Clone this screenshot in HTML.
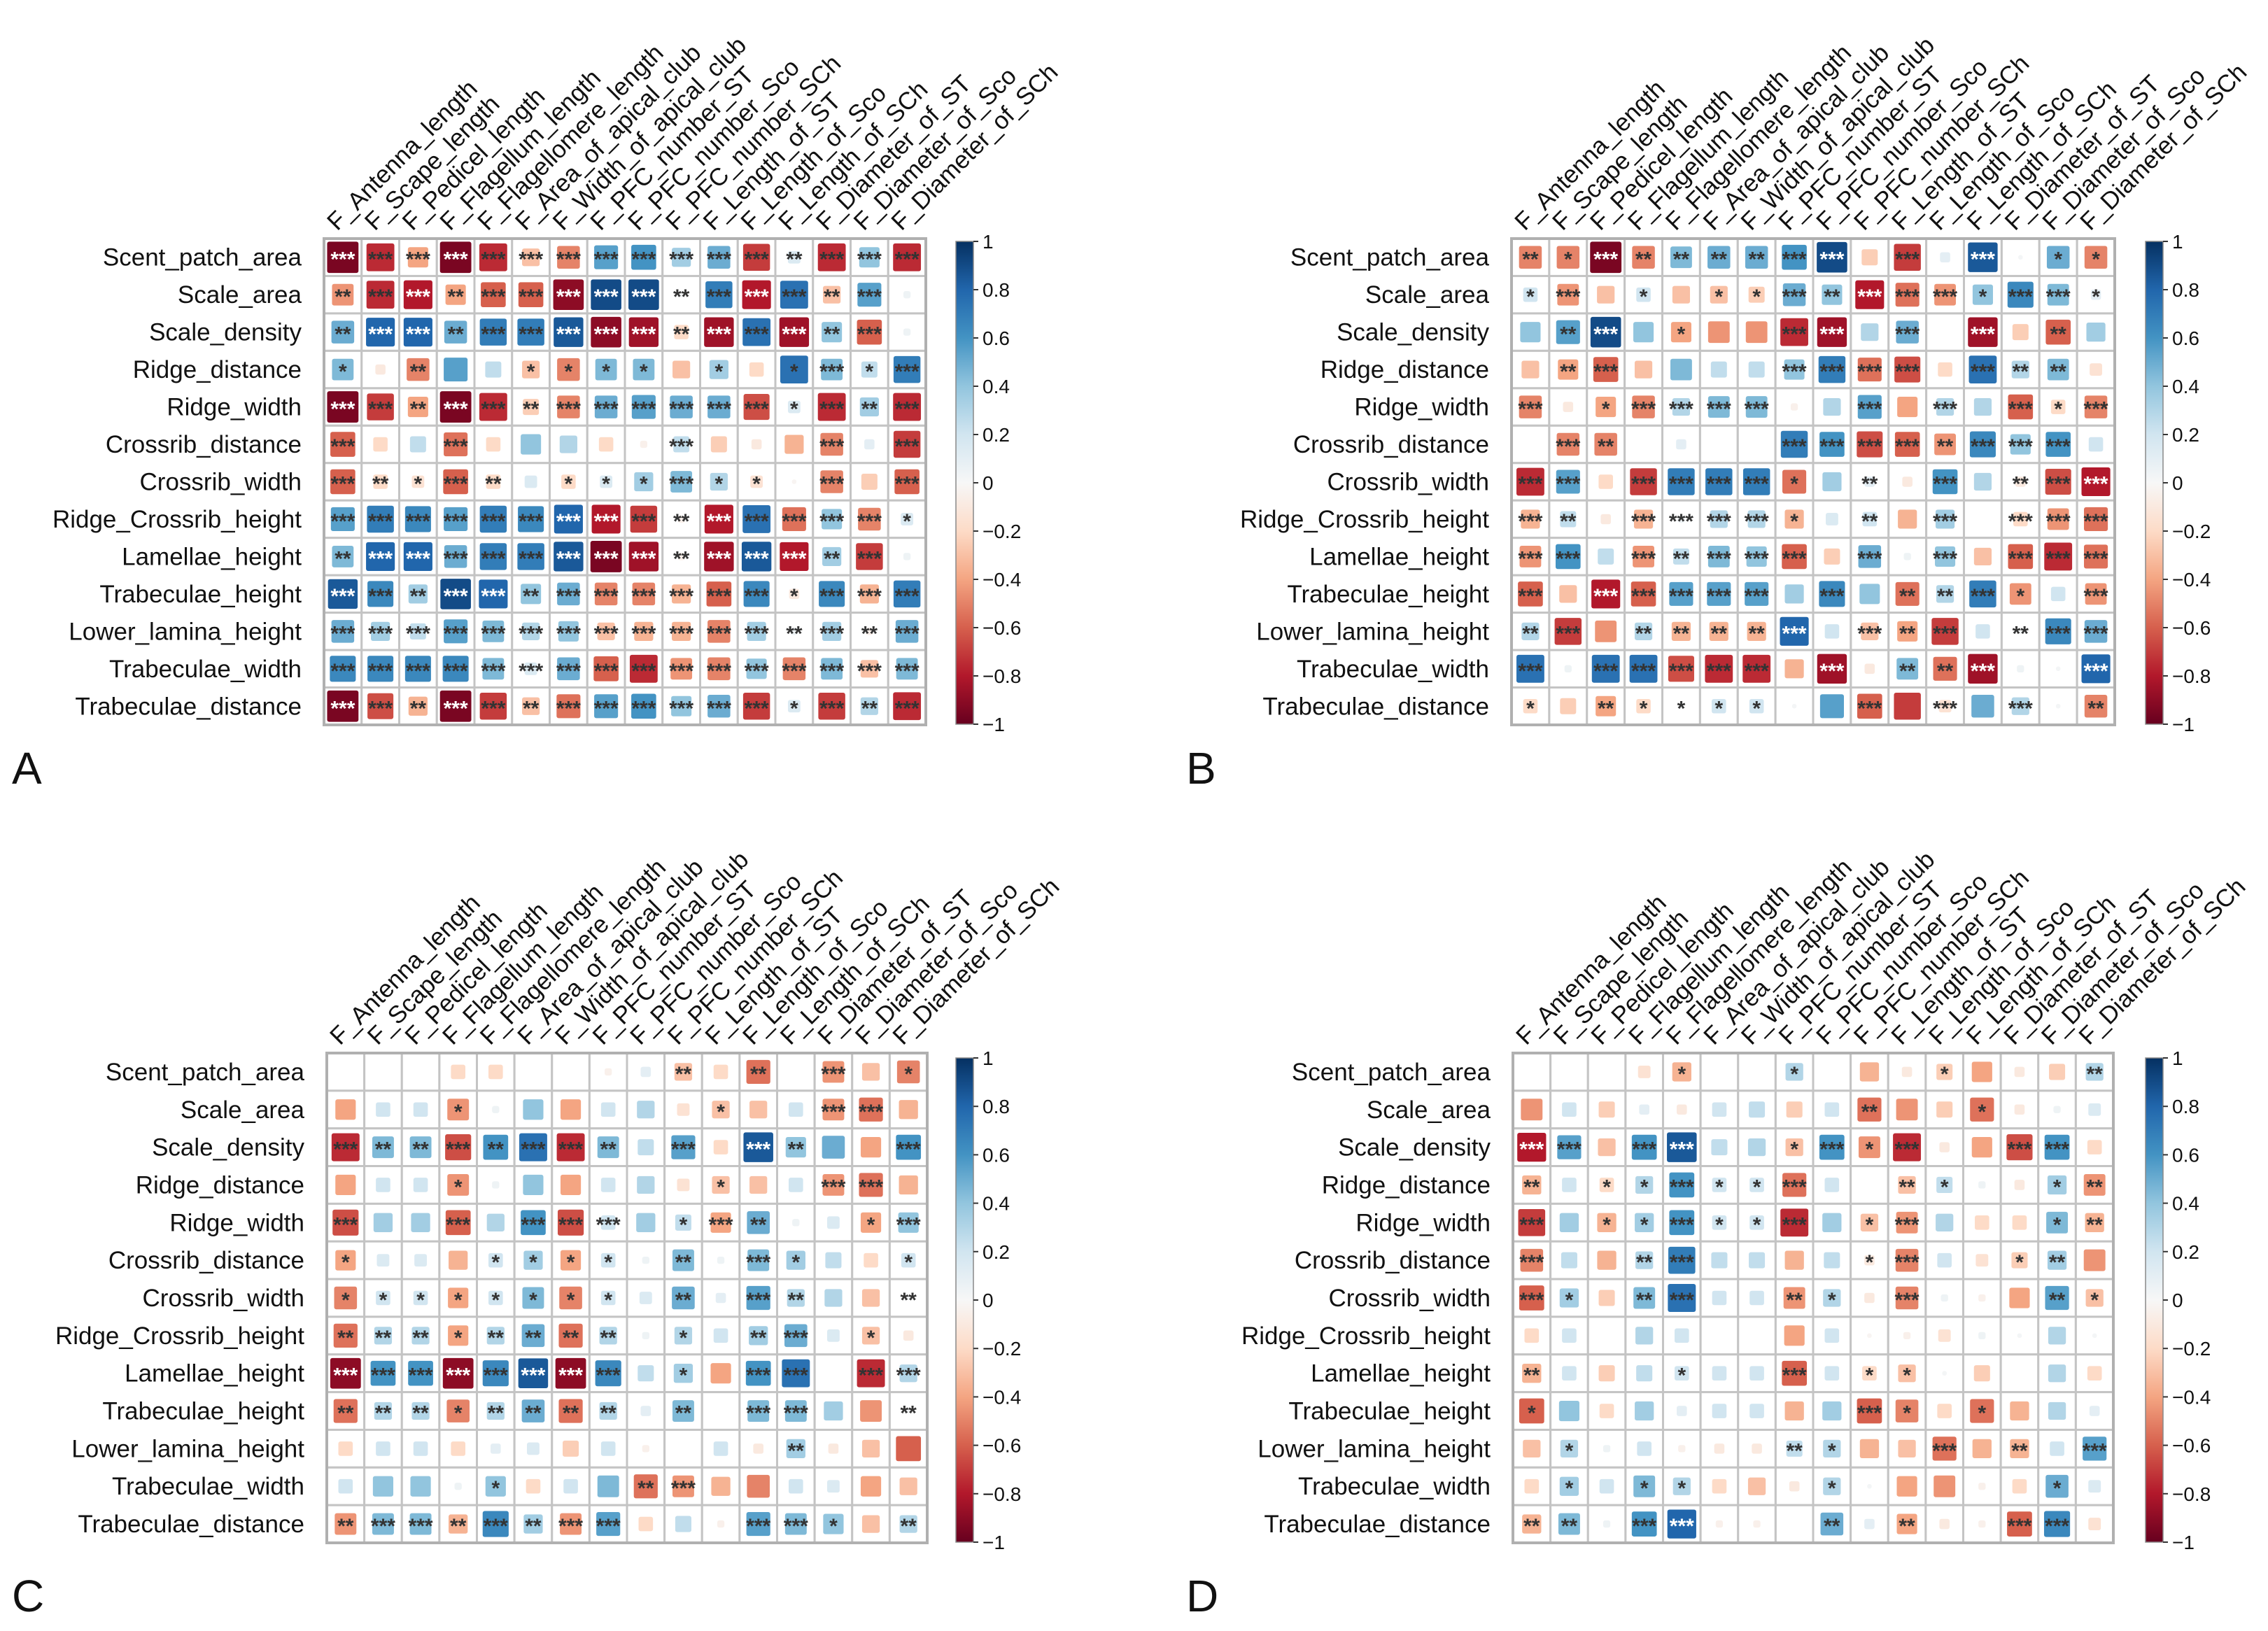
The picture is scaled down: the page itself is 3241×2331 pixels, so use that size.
<!DOCTYPE html>
<html><head><meta charset="utf-8"><style>
html,body{margin:0;padding:0;background:#fff;}
svg{display:block;font-family:"Liberation Sans",Arial,sans-serif;}
</style></head><body>
<svg id="chart" width="3241" height="2331" viewBox="0 0 3241 2331" xmlns="http://www.w3.org/2000/svg">
<rect width="3241" height="2331" fill="#fff"/>
</svg>
<script>
const rowLabels = ["Scent_patch_area","Scale_area","Scale_density","Ridge_distance","Ridge_width","Crossrib_distance","Crossrib_width","Ridge_Crossrib_height","Lamellae_height","Trabeculae_height","Lower_lamina_height","Trabeculae_width","Trabeculae_distance"];
const colLabels = ["F_Antenna_length","F_Scape_length","F_Pedicel_length","F_Flagellum_length","F_Flagellomere_length","F_Area_of_apical_club","F_Width_of_apical_club","F_PFC_number_ST","F_PFC_number_Sco","F_PFC_number_SCh","F_Length_of_ST","F_Length_of_Sco","F_Length_of_SCh","F_Diameter_of_ST","F_Diameter_of_Sco","F_Diameter_of_SCh"];
const tickValues = [1,0.8,0.6,0.4,0.2,0,-0.2,-0.4,-0.6,-0.8,-1];
const panelLetters = ["A","B","C","D"];

const valuesA = [
[-0.95,-0.75,-0.4,-0.95,-0.75,-0.3,-0.5,0.55,0.6,0.35,0.5,-0.7,0.15,-0.75,0.4,-0.75],
[-0.45,-0.75,-0.8,-0.4,-0.6,-0.6,-0.9,0.9,0.9,0.02,0.7,-0.8,0.75,-0.3,0.55,0.05],
[0.5,0.8,0.8,0.5,0.7,0.7,0.85,-0.9,-0.85,-0.2,-0.85,0.75,-0.85,0.4,-0.6,0.05],
[0.45,-0.1,-0.5,0.55,0.25,-0.3,-0.5,0.45,0.45,-0.3,0.35,-0.2,0.75,0.45,0.25,0.7],
[-0.95,-0.7,-0.4,-0.95,-0.75,-0.25,-0.5,0.5,0.55,0.5,0.5,-0.65,0.15,-0.75,0.35,-0.75],
[-0.6,-0.2,0.25,-0.55,-0.2,0.4,0.3,-0.2,-0.05,0.25,-0.25,-0.1,-0.35,-0.5,0.1,-0.7],
[-0.6,-0.2,-0.15,-0.6,-0.2,0.15,-0.2,0.15,0.35,0.45,0.3,-0.15,-0.02,-0.5,-0.25,-0.6],
[0.55,0.7,0.65,0.55,0.7,0.65,0.8,-0.8,-0.7,-0.05,-0.8,0.75,-0.55,0.4,-0.5,0.15],
[0.45,0.8,0.8,0.5,0.7,0.7,0.85,-0.95,-0.85,-0.05,-0.85,0.85,-0.8,0.35,-0.7,0.05],
[0.85,0.65,0.35,0.9,0.8,0.4,0.5,-0.5,-0.5,-0.35,-0.6,0.65,-0.1,0.65,-0.35,0.7],
[0.5,0.35,0.25,0.55,0.45,0.3,0.4,-0.3,-0.35,-0.35,-0.5,0.35,0.05,0.35,-0.05,0.5],
[0.65,0.65,0.65,0.65,0.45,0.15,0.5,-0.6,-0.75,-0.45,-0.5,0.4,-0.5,0.45,-0.3,0.45],
[-0.95,-0.65,-0.35,-0.95,-0.7,-0.3,-0.55,0.55,0.6,0.4,0.5,-0.7,0.15,-0.7,0.3,-0.75]];
const sigA = ["3333333333332333","2332333332333230","2332333332333230","1020011110101313","3323323333331323","3003000003000303","3213201113110303","3333333332333331","2333333332333230","3323323333331333","3333333333332323","3333333333333333","3323323333331323"];

const valuesB = [
[-0.5,-0.5,-0.95,-0.5,0.45,0.5,0.5,0.6,0.9,-0.25,-0.7,0.1,0.85,0.02,0.5,-0.5],
[0.2,-0.45,-0.3,0.2,-0.3,-0.3,-0.25,0.5,0.4,-0.8,-0.55,-0.45,0.4,0.65,0.45,0.1],
[0.4,0.55,0.9,0.4,-0.4,-0.45,-0.45,-0.75,-0.85,0.3,0.5,0,-0.85,-0.25,-0.6,0.35],
[-0.3,-0.4,-0.6,-0.3,0.45,0.25,0.25,0.4,0.7,-0.55,-0.65,-0.2,0.75,0.3,0.45,-0.15],
[-0.5,-0.1,-0.4,-0.5,0.3,0.45,0.45,-0.05,0.3,0.55,-0.4,0.3,0.3,-0.6,-0.2,-0.5],
[0,-0.5,-0.5,0,0.1,0,0,0.7,0.6,-0.65,-0.6,-0.45,0.65,0.4,0.6,0.2],
[-0.75,0.55,-0.2,-0.7,0.7,0.7,0.7,-0.55,0.35,0.1,-0.1,0.6,0.3,-0.1,-0.65,-0.8],
[-0.35,0.25,-0.1,-0.35,0.05,0.3,0.3,-0.35,0.15,0.2,-0.35,0.35,0,-0.2,-0.45,-0.55],
[-0.45,0.6,0.25,-0.45,0.25,0.45,0.4,-0.6,-0.25,0.5,0.05,0.4,-0.3,-0.6,-0.75,-0.55],
[-0.6,-0.3,-0.8,-0.6,0.55,0.55,0.55,0.35,0.65,0.4,-0.55,0.3,0.7,-0.45,0.2,-0.45],
[0.3,-0.7,-0.45,0.3,-0.35,-0.35,-0.35,0.8,0.2,-0.3,-0.4,-0.7,0.2,0.02,0.65,0.5],
[0.75,0.05,0.75,0.75,-0.65,-0.75,-0.75,-0.35,-0.85,-0.1,0.45,-0.55,-0.85,0.05,0.02,0.8],
[-0.2,-0.25,-0.4,-0.2,0.02,0.2,0.2,0.02,0.55,-0.6,-0.7,-0.15,0.5,0.3,0.02,-0.5]];
const sigB = ["2132222330303011","1301011323331331","0230100330303020","0230000333303220","3013333003030313","0320000333323330","3303333102030233","3203333102030333","3303233303030333","3033333030223103","2302222303230233","3033333030223003","1021111003030302"];

const valuesC = [
[0,0,0,-0.2,-0.2,0,0,-0.05,0.1,-0.3,-0.2,-0.55,0,-0.45,-0.3,-0.5],
[-0.4,0.2,0.2,-0.45,0.05,0.4,-0.4,0.2,0.3,-0.15,-0.3,-0.3,0.2,-0.45,-0.55,-0.35],
[-0.75,0.45,0.45,-0.65,0.6,0.75,-0.75,0.45,0.25,0.55,-0.2,0.85,0.4,0.5,-0.4,0.6],
[-0.4,0.2,0.2,-0.45,0.05,0.4,-0.4,0.2,0.3,-0.15,-0.3,-0.3,0.2,-0.45,-0.55,-0.35],
[-0.65,0.35,0.35,-0.6,0.3,0.6,-0.65,0.2,0.35,0.25,-0.4,0.5,0.05,0.15,-0.4,0.4],
[-0.4,0.15,0.15,-0.35,0.2,0.35,-0.4,0.2,0.05,0.45,0.05,0.45,0.35,0.25,-0.2,0.2],
[-0.5,0.2,0.2,-0.4,0.2,0.45,-0.5,0.2,0.15,0.5,0.1,0.55,0.3,0.3,-0.3,0.02],
[-0.55,0.3,0.3,-0.4,0.3,0.5,-0.55,0.3,0.05,0.3,0.2,0.35,0.5,0.15,-0.3,-0.1],
[-0.9,0.6,0.6,-0.9,0.65,0.85,-0.9,0.65,0.25,0.35,-0.4,0.6,0.75,0,-0.75,0.3],
[-0.55,0.3,0.3,-0.5,0.3,0.5,-0.55,0.3,0.1,0.45,0,0.45,0.45,0.35,-0.45,0.02],
[-0.2,0.2,0.2,-0.2,0.1,0.15,-0.25,0.2,-0.05,0,0.2,-0.1,0.35,-0.1,-0.3,-0.6],
[0.2,0.4,0.4,0.05,0.4,-0.2,0.2,0.45,-0.55,-0.45,-0.35,-0.5,0.2,0.15,-0.4,-0.3],
[-0.45,0.45,0.45,-0.35,0.65,0.35,-0.45,0.55,-0.2,0.25,-0.05,0.55,0.45,0.4,-0.3,0.3]];
const sigC = ["0000000002020301","0001000000100330","3223233203032003","0001000000100330","3003033301320013","1000111102031001","1111111102032002","2221222201023010","3333333301033033","2221222202033002","0000000000002000","0000100023000000","2332323300033102"];

const valuesD = [
[0,0,0,-0.15,-0.35,0,0,0.3,0,-0.35,-0.1,-0.25,-0.4,-0.1,-0.25,0.3],
[-0.45,0.2,-0.25,0.1,-0.1,0.2,0.25,-0.25,0.2,-0.55,-0.45,-0.25,-0.55,-0.1,0.05,0.15],
[-0.8,0.55,-0.3,0.6,0.85,0.25,0.3,-0.3,0.6,-0.45,-0.75,-0.1,-0.4,-0.65,0.6,-0.2],
[-0.35,0.2,-0.2,0.3,0.6,0.2,0.2,-0.55,0.2,0,-0.3,0.25,0.05,-0.1,0.35,-0.45],
[-0.7,0.35,-0.35,0.35,0.6,0.2,0.2,-0.75,0.35,-0.3,-0.45,0.3,-0.2,-0.2,0.45,-0.35],
[-0.5,0.25,-0.35,0.3,0.7,0.25,0.25,-0.35,0.25,-0.1,-0.5,0.2,-0.15,-0.25,0.35,-0.45],
[-0.6,0.35,-0.25,0.45,0.75,0.2,0.2,-0.45,0.3,-0.1,-0.5,0.05,-0.05,-0.4,0.55,-0.3],
[-0.2,0.2,0,0.3,0.2,0,0,-0.4,0.2,-0.02,-0.05,-0.15,0.05,0.02,0.3,0.02],
[-0.35,0.2,-0.25,0.25,0.2,0.2,0.2,-0.6,0.2,-0.2,-0.3,0.02,-0.25,0,0.3,-0.2],
[-0.6,0.4,-0.2,0.35,0.1,0.2,0.2,-0.35,0.35,-0.6,-0.5,-0.2,-0.55,-0.35,0.3,0.1],
[-0.3,0.3,0.05,0.2,-0.05,-0.1,-0.1,0.25,0.3,-0.35,-0.3,-0.55,-0.35,-0.35,0.2,0.55],
[-0.2,0.35,0.2,0.45,0.3,-0.2,-0.3,-0.1,0.3,0.02,-0.4,-0.45,-0.05,-0.2,0.5,0.15],
[-0.35,0.45,0.05,0.6,0.8,-0.05,-0.05,0,0.5,0.1,-0.4,-0.1,-0.05,-0.6,0.65,-0.15]];
const sigD = ["0000100100010002","0000000002001000","3303300131300330","2011311300210012","3011311301300012","3002300001300120","3102300210300021","0000000000000000","2000100301100000","1000000003101000","0100000210030203","0101100010000010","2203300020200330"];

const panels = [
 {x:463,y:341,w:860,h:695,cbx:1366,cby:345,cbh:690,lx:17,ly:1120,vals:valuesA,sig:sigA},
 {x:2160,y:341,w:862,h:695,cbx:3066,cby:345,cbh:690,lx:1695,ly:1120,vals:valuesB,sig:sigB},
 {x:467,y:1505,w:858,h:700,cbx:1366,cby:1512,cbh:692,lx:17,ly:2303,vals:valuesC,sig:sigC},
 {x:2162,y:1505,w:858,h:700,cbx:3066,cby:1512,cbh:692,lx:1695,ly:2303,vals:valuesD,sig:sigD}
];

const stops = ["#67001f","#b2182b","#d6604d","#f4a582","#fddbc7","#f7f7f7","#d1e5f0","#92c5de","#4393c3","#2166ac","#053061"];
function hex(c){return [parseInt(c.substr(1,2),16),parseInt(c.substr(3,2),16),parseInt(c.substr(5,2),16)];}
function colorFor(v){
  const t=(Math.max(-1,Math.min(1,v))+1)/2*10;
  const i=Math.min(9,Math.floor(t)), f=t-i;
  const a=hex(stops[i]), b=hex(stops[i+1]);
  return "rgb("+a.map((x,k)=>Math.round(x+(b[k]-x)*f)).join(",")+")";
}
const NS="http://www.w3.org/2000/svg";
const svg=document.getElementById("chart");
function mk(tag,attrs,parent){const e=document.createElementNS(NS,tag);for(const k in attrs)e.setAttribute(k,attrs[k]);(parent||svg).appendChild(e);return e;}

const defs=mk("defs",{});
const grad=mk("linearGradient",{id:"cbgrad",x1:"0",y1:"0",x2:"0",y2:"1"},defs);
stops.slice().reverse().forEach((c,i)=>mk("stop",{offset:(i/10*100)+"%","stop-color":c},grad));

panels.forEach((p,pi)=>{
  const g=mk("g",{});
  
  
  const nr=rowLabels.length, nc=colLabels.length;
  const cw=p.w/nc, ch=p.h/nr;
  const xs=c=>p.x+c*cw, ys=r=>p.y+r*ch;
  for(let r=0;r<nr;r++){
    for(let c=0;c<nc;c++){
      const v=p.vals[r][c];
      const bg=mk("rect",{x:xs(c),y:ys(r),width:cw,height:ch,fill:"#fff",stroke:"#c4c4c4","stroke-width":3},g);
      
      
      const s=Math.sqrt(Math.abs(v))*Math.min(cw,ch)*0.86;
      if(s>0.5){
        const sq=mk("rect",{x:xs(c)+cw/2-s/2,y:ys(r)+ch/2-s/2,width:s,height:s,rx:3,fill:colorFor(v)},g);
        
        
      }
      const n=parseInt(p.sig[r][c]);
      if(n>0){
        const t=mk("text",{x:xs(c)+cw/2,y:ys(r)+ch/2+13,"text-anchor":"middle","font-size":30,"font-weight":"bold",fill:Math.abs(v)>=0.78?"#ffffff":"#333333"},g);
        t.textContent="*".repeat(n);
        
        
      }
    }
  }
  const border=mk("rect",{x:p.x,y:p.y,width:p.w,height:p.h,fill:"none",stroke:"#b0b0b0","stroke-width":4},g);
  
  
  rowLabels.forEach((lab,r)=>{
    const t=mk("text",{x:p.x-32,y:ys(r)+ch/2+12,"text-anchor":"end","font-size":35,fill:"#111"},g);
    t.textContent=lab;
    
    
  });
  colLabels.forEach((lab,c)=>{
    const x=xs(c)+cw/2-8, y=p.y-10;
    const t=mk("text",{x:x,y:y,"font-size":35,fill:"#111",transform:"rotate(-45 "+x+" "+y+")"},g);
    t.textContent=lab;
    
    
  });
  const cb=mk("rect",{x:p.cbx,y:p.cby,width:25,height:p.cbh,fill:"url(#cbgrad)",stroke:"#888","stroke-width":1.5},g);
  
  
  tickValues.forEach(tv=>{
    const y=p.cby+(1-tv)/2*p.cbh;
    mk("line",{x1:p.cbx+25,x2:p.cbx+32,y1:y,y2:y,stroke:"#333","stroke-width":2},g);
    const t=mk("text",{x:p.cbx+38,y:y+10,"font-size":28,fill:"#111"},g);
    t.textContent=(tv<0?"\u2212":"")+Math.abs(tv);
    
    
  });
  const L=mk("text",{x:p.lx,y:p.ly,"font-size":64,fill:"#111"},g);
  L.textContent=panelLetters[pi];
  
  
});
</script>
</body></html>
